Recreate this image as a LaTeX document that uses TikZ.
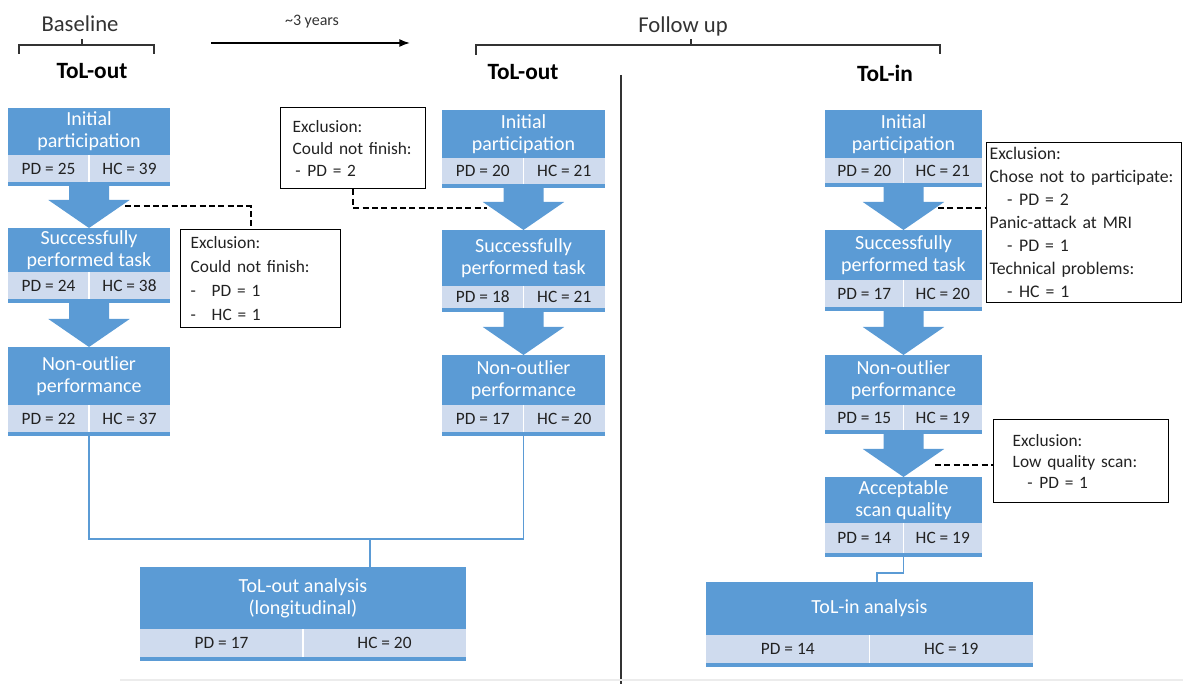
\documentclass[tikz,border=0pt]{standalone}
\usepackage{fontspec}
\setmainfont{Carlito}
\usetikzlibrary{calc,arrows.meta}
\definecolor{bblue}{HTML}{5B9BD5}
\definecolor{lblue}{HTML}{CFDBEE}
\definecolor{txt}{HTML}{222222}
\definecolor{hdr}{HTML}{333333}

\newcommand{\flowbox}[9]{%
  \fill[bblue] (#2,#4) rectangle (#3,#5);
  \fill[lblue] (#2,#5) rectangle (#3,#6);
  \fill[bblue] (#2,#6) rectangle (#3,#6+4);
  \draw[white, line width=0.8pt] ({(#2+#3)/2},#5) -- ({(#2+#3)/2},#6);
  \node[inner sep=0pt, outer sep=0pt, minimum width={(#3-#2)*0.75pt}, minimum height={(#6+4-#4)*0.75pt}] (#1) at ({(#2+#3)/2},{(#4+#6+4)/2}) {};
  \node[ttl] (#1-t) at ({(#2+#3)/2},{(#4+#5)/2}) {#7};
  \node[val] (#1-pd) at ({(3*#2+#3)/4},{(#5+#6)/2}) {#8};
  \node[val] (#1-hc) at ({(#2+3*#3)/4},{(#5+#6)/2}) {#9};
}
\newcommand{\blockarrow}[2]{%
  \fill[bblue] let \p1=(#1.south), \p2=(#2.north) in
    (\x1-15pt,\y1) -- (\x1+15pt,\y1) -- (\x1+15pt,\y2+21pt) -- (\x1+30.5pt,\y2+21pt)
    -- (\x1,\y2) -- (\x1-30.5pt,\y2+21pt) -- (\x1-15pt,\y2+21pt) -- cycle;
}

\begin{document}
\begin{tikzpicture}[x=0.75pt,y=-0.75pt,
  ttl/.style={text=white, align=center, inner sep=0pt, font=\fontsize{15}{16.5}\selectfont},
  val/.style={text=txt, inner sep=0pt, font=\fontsize{13}{14}\selectfont},
  excl/.style={draw=black, line width=1.1pt, align=left, anchor=north west, inner ysep=0pt, text=txt},
  hdrtxt/.style={text=hdr, font=\fontsize{17}{20}\selectfont, inner sep=0pt},
  colhdr/.style={text=black, font=\fontsize{17.5}{20}\selectfont\bfseries, inner sep=0pt},
  brk/.style={draw=hdr, line width=1pt},
  dsh/.style={draw=black, line width=1.4pt, dash pattern=on 4.5pt off 2.5pt},
  conn/.style={draw=bblue, line width=1.1pt}]
\useasboundingbox (0,0) rectangle (1183,684);

% headers
\node[hdrtxt] (base) at (80,24) {Baseline};
\draw[brk] (19,54) -- (19,45) -- (154,45) -- (154,54);
\draw[brk] (82,45) -- (82,39);
\node[hdrtxt] (fu) at (683,26) {Follow up};
\draw[brk] (476,55) -- (476,45) -- (940,45) -- (940,54);
\draw[brk] (691,45) -- (691,39);
\coordinate (tl1) at (211,43);
\coordinate (tl2) at (410,43);
\draw[line width=1.2pt, -{Latex[length=8pt,width=6pt]}] (tl1) -- (tl2);
\node[text=hdr, font=\fontsize{12}{14}\selectfont, inner sep=0pt] (yrs) at (312,22) {\textasciitilde 3 years};
\node[colhdr] (h1) at (92,71) {ToL-out};
\node[colhdr] (h2) at (523,72) {ToL-out};
\node[colhdr] (h3) at (885,73) {ToL-in};

\draw[line width=2.2pt, color=hdr] (621,75) -- (621,684);
\draw[gray!15, line width=0.8pt] (120,680) -- (1183,680);

% boxes
\flowbox{L1}{8}{170}{108}{155}{182}{Initial\\participation}{PD = 25}{HC = 39}
\flowbox{L2}{8}{170}{228}{272}{299}{Successfully\\performed task}{PD = 24}{HC = 38}
\flowbox{L3}{8}{170}{347}{405}{432}{Non-outlier\\performance}{PD = 22}{HC = 37}
\flowbox{M1}{442}{605}{110}{158}{184}{Initial\\participation}{PD = 20}{HC = 21}
\flowbox{M2}{442}{605}{230}{286}{308}{Successfully\\performed task}{PD = 18}{HC = 21}
\flowbox{M3}{442}{605}{355}{405}{432}{Non-outlier\\performance}{PD = 17}{HC = 20}
\flowbox{R1}{825}{982}{110}{158}{183}{Initial\\participation}{PD = 20}{HC = 21}
\flowbox{R2}{825}{982}{230}{280}{307}{Successfully\\performed task}{PD = 17}{HC = 20}
\flowbox{R3}{825}{982}{355}{405}{430}{Non-outlier\\performance}{PD = 15}{HC = 19}
\flowbox{R4}{825}{982}{477}{523}{553}{Acceptable\\scan quality}{PD = 14}{HC = 19}
\flowbox{TO}{140}{466}{567}{629}{657}{ToL-out analysis\\(longitudinal)}{PD = 17}{HC = 20}
\flowbox{TI}{706}{1033}{582}{635}{663}{ToL-in analysis}{PD = 14}{HC = 19}

% block arrows
\blockarrow{L1}{L2}
\blockarrow{L2}{L3}
\blockarrow{M1}{M2}
\blockarrow{M2}{M3}
\blockarrow{R1}{R2}
\blockarrow{R2}{R3}
\blockarrow{R3}{R4}

% analysis connectors
\coordinate (tojoin) at (370,539);
\draw[conn] (L3.south) |- (tojoin) -| (M3.south);
\draw[conn] (tojoin) -- (tojoin |- TO.north);
\coordinate (tijoin) at (877,573);
\draw[conn] (R4.south) |- (tijoin) -- (tijoin |- TI.north);

% exclusion boxes
\node[excl, minimum width=120pt, minimum height=73.5pt, text width=105pt, inner xsep=7.5pt,
  font=\fontsize{13}{18}\selectfont] (exL) at (180,229)
  {Exclusion:\\Could not finish:\\\makebox[15.75pt][l]{-}PD = 1\\\makebox[15.75pt][l]{-}HC = 1};
\node[excl, minimum width=108.75pt, minimum height=60.75pt, text width=90.75pt, inner xsep=9pt,
  font=\fontsize{13}{16.5}\selectfont] (exM) at (280,107)
  {Exclusion:\\Could not finish:\\\hspace*{2pt}-\hspace*{5pt}PD = 2};
\node[excl, minimum width=146.25pt, minimum height=120pt, text width=141.75pt, inner xsep=2.25pt,
  font=\fontsize{13.3}{17.25}\selectfont] (exR1) at (986,142)
  {Exclusion:\\Chose not to participate:\\\hspace*{13pt}-\hspace*{5pt}PD = 2\\Panic-attack at MRI\\\hspace*{13pt}-\hspace*{5pt}PD = 1\\Technical problems:\\\hspace*{13pt}-\hspace*{5pt}HC = 1};
\node[excl, minimum width=131.25pt, minimum height=62.25pt, text width=102.75pt, inner xsep=14.25pt,
  font=\fontsize{13}{15.75}\selectfont] (exR2) at (993,419)
  {Exclusion:\\Low quality scan:\\\hspace*{11pt}-\hspace*{5pt}PD = 1};

% dashed connectors
\coordinate (dl) at (125,206);
\draw[dsh] (dl) -| ($(exL.north)+(-10,0)$);
\coordinate (dm) at (487,208);
\draw[dsh] (exM.south) |- (dm);
\coordinate (dr1) at (938,208);
\draw[dsh] (dr1) -- (dr1 -| exR1.west);
\coordinate (dr2) at (935,465);
\draw[dsh] (dr2) -- (dr2 -| exR2.west);
\end{tikzpicture}
\end{document}
